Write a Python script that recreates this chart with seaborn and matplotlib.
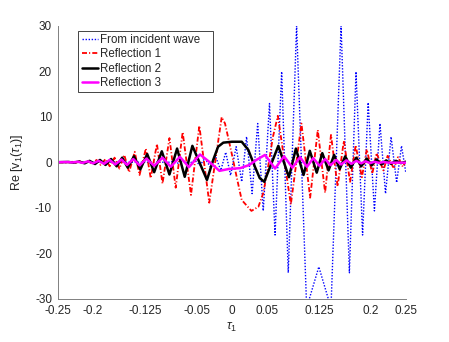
import pandas as pd
import seaborn as sns
import matplotlib.pyplot as plt

# values (peaks, troughs and a few in-between points)
tau_inc = [-0.25, -0.1, -0.094, -0.086, -0.078, -0.070, -0.062, -0.054, -0.046, -0.039,
           -0.031, -0.024, -0.016, -0.009, -0.002, 0.006, 0.014, 0.021, 0.029, 0.037,
           0.045, 0.054, 0.062, 0.0715, 0.081, 0.093, 0.1075, 0.125, 0.1425, 0.157,
           0.169, 0.1785, 0.188, 0.196, 0.205, 0.213, 0.221, 0.229, 0.237, 0.244, 0.25]
re_inc = [0, 0, -0.1, 0.15, -0.2, 0.3, -0.4, 0.5, -0.7, 0.9,
          -1.1, 1.4, -1.8, 2.2, -2.9, 3.4, -4.3, 5.6, -6.9, 8.5,
          -10.7, 12.9, -16.0, 19.9, -24.3, 30.0, -32.0, -23.0, -32.0, 30.0,
          -24.3, 19.9, -16.0, 13.1, -10.7, 8.5, -6.9, 5.6, -4.5, 3.6, -2.1]

tau_r1 = [-0.25, -0.236, -0.230, -0.225, -0.219, -0.213, -0.207, -0.201, -0.195, -0.189,
          -0.182, -0.176, -0.169, -0.162, -0.155, -0.148, -0.140, -0.133, -0.124, -0.117,
          -0.108, -0.100, -0.090, -0.081, -0.071, -0.059, -0.047, -0.0327, -0.0148, -0.010,
          -0.0005, 0.0067, 0.014, 0.028, 0.038, 0.045, 0.052, 0.059, 0.066, 0.0847,
          0.100, 0.1125, 0.1235, 0.134, 0.1425, 0.152, 0.161, 0.170, 0.178, 0.187,
          0.194, 0.202, 0.208, 0.218, 0.224, 0.233, 0.239, 0.246, 0.25]
re_r1 = [0, -0.1, 0.1, -0.15, 0.2, -0.25, 0.3, -0.4, 0.5, -0.6,
         0.7, -0.9, 1.0, -1.4, 1.6, -2.2, 2.3, -2.8, 3.0, -3.5,
         4.0, -4.7, 5.3, -5.6, 6.6, -7.2, 8.0, -8.9, 9.9, 8.5,
         2.0, -3.2, -8.3, -10.7, -9.8, -6.8, -1.0, 5.6, 10.2, -9.3,
         8.5, -7.8, 7.1, -6.7, 6.0, -5.3, 4.7, -4.3, 3.7, -3.3,
         2.8, -2.5, 2.0, -1.8, 1.4, -1.4, 1.1, -1.0, 0.2]

tau_r2 = [-0.25, -0.235, -0.228, -0.22, -0.212, -0.205, -0.197, -0.19, -0.182, -0.174,
          -0.166, -0.158, -0.150, -0.141, -0.132, -0.122, -0.112, -0.101, -0.090, -0.079,
          -0.068, -0.057, -0.036, -0.027, -0.020, -0.0125, 0.0, 0.014, 0.0235, 0.033,
          0.040, 0.0465, 0.0667, 0.082, 0.092, 0.103, 0.112, 0.122, 0.130, 0.139,
          0.147, 0.155, 0.163, 0.171, 0.179, 0.186, 0.194, 0.201, 0.208, 0.215,
          0.222, 0.229, 0.236, 0.243, 0.25]
re_r2 = [0, 0.05, -0.1, 0.15, -0.25, 0.3, -0.4, 0.5, -0.6, 0.7,
         -0.9, 1.0, -1.2, 1.3, -1.6, 1.8, -2.2, 2.4, -2.7, 3.0,
         -3.2, 3.6, -3.9, 0.5, 3.4, 4.3, 4.5, 4.5, 2.7, -1.0,
         -3.5, -4.3, 3.6, -3.3, 3.0, -2.8, 2.5, -2.3, 2.0, -1.8,
         1.6, -1.5, 1.3, -1.2, 1.0, -0.9, 0.8, -0.7, 0.6, -0.5,
         0.4, -0.35, 0.3, -0.2, 0.1]

tau_r3 = [-0.25, -0.237, -0.23, -0.222, -0.215, -0.207, -0.2, -0.192, -0.184, -0.176,
          -0.168, -0.159, -0.151, -0.142, -0.133, -0.123, -0.112, -0.100, -0.088, -0.075,
          -0.062, -0.046, -0.032, -0.018, -0.005, 0.012, 0.025, 0.035, 0.0475, 0.062,
          0.075, 0.087, 0.098, 0.108, 0.117, 0.126, 0.134, 0.142, 0.150, 0.157,
          0.165, 0.172, 0.179, 0.186, 0.192, 0.199, 0.205, 0.212, 0.218, 0.225, 0.25]
re_r3 = [0, 0.05, -0.05, 0.1, -0.15, 0.2, -0.25, 0.3, -0.35, 0.5,
         -0.5, 0.6, -0.6, 0.7, -0.7, 0.8, -0.8, 1.0, -1.0, 1.2,
         -1.1, 1.7, 0.0, -1.9, -1.5, -1.3, -0.6, 0.5, 1.6, -1.4,
         1.3, -1.2, 1.1, -1.0, 0.9, -0.8, 0.7, -0.65, 0.5, -0.5,
         0.4, -0.35, 0.3, -0.25, 0.2, -0.2, 0.1, -0.15, 0.05, -0.1, -0.1]

xticks = [-0.25, -0.2, -0.125, -0.05, 0, 0.05, 0.125, 0.2, 0.25]
xticklabels = ['-0.25', '-0.2', '-0.125', '-0.05', '0', '0.05', '0.125', '0.2', '0.25']
yticks = [-30, -20, -10, 0, 10, 20, 30]
yticklabels = ['-30', '-20', '-10', '0', '10', '20', '30']

sns.set_style("white")
plt.rcParams['font.family'] = ['Liberation Sans', 'DejaVu Sans']
plt.rcParams['mathtext.fontset'] = 'custom'
plt.rcParams['mathtext.rm'] = 'Liberation Sans'
plt.rcParams['mathtext.it'] = 'Liberation Sans:italic'
plt.rcParams['lines.scale_dashes'] = False
plt.rcParams['lines.solid_joinstyle'] = 'round'
plt.rcParams['lines.dash_joinstyle'] = 'round'

fig = plt.figure(figsize=(4.49, 3.42), dpi=100)
ax = fig.add_axes([0.1298, 0.1266, 0.7737, 0.7982])

series = [
    (tau_inc, re_inc, 'From incident wave', '#0000ff', 1.0, (0, (1, 1.2))),
    (tau_r1, re_r1, 'Reflection 1', '#ff0000', 1.3, (0, (3.6, 1.5, 0.8, 1.5))),
    (tau_r2, re_r2, 'Reflection 2', 'black', 1.8, '-'),
    (tau_r3, re_r3, 'Reflection 3', '#ff00ff', 1.8, '-'),
]
for t, v, name, col, lw, ls in series:
    df = pd.DataFrame({'tau': t, 're': v})
    sns.lineplot(data=df, x='tau', y='re', ax=ax, color=col, lw=lw, linestyle=ls,
                 label=name, estimator=None, sort=False)

ax.set_xlim(-0.25, 0.25)
ax.set_ylim(-30, 30)
ax.set_xticks(xticks)
ax.set_xticklabels(xticklabels)
ax.set_yticks(yticks)
ax.set_yticklabels(yticklabels)
ax.tick_params(direction='in', length=3, width=0.6, color='#808080',
               labelcolor='#262626', labelsize=8.5, pad=4.5)
for s in ['top', 'right']:
    ax.spines[s].set_visible(False)
for s in ['left', 'bottom']:
    ax.spines[s].set_color('#808080')
    ax.spines[s].set_linewidth(0.7)

ax.set_xlabel(r'$\tau_1$', fontsize=9, color='#262626', labelpad=3)
ax.set_ylabel(r'Re [v$_1$($\tau_1$)]', fontsize=9, color='#262626', labelpad=7)

leg = ax.legend(loc='upper left', bbox_to_anchor=(0.058, 0.982, 0.386, 0.0),
                mode='expand', borderaxespad=0, fontsize=8.3, frameon=True,
                fancybox=False, handlelength=1.4, handletextpad=0.2,
                labelspacing=0.2, borderpad=0.3)
leg.get_frame().set_edgecolor('#262626')
leg.get_frame().set_linewidth(0.6)
leg.get_frame().set_alpha(1)

fig.savefig('out.png', dpi=100)
